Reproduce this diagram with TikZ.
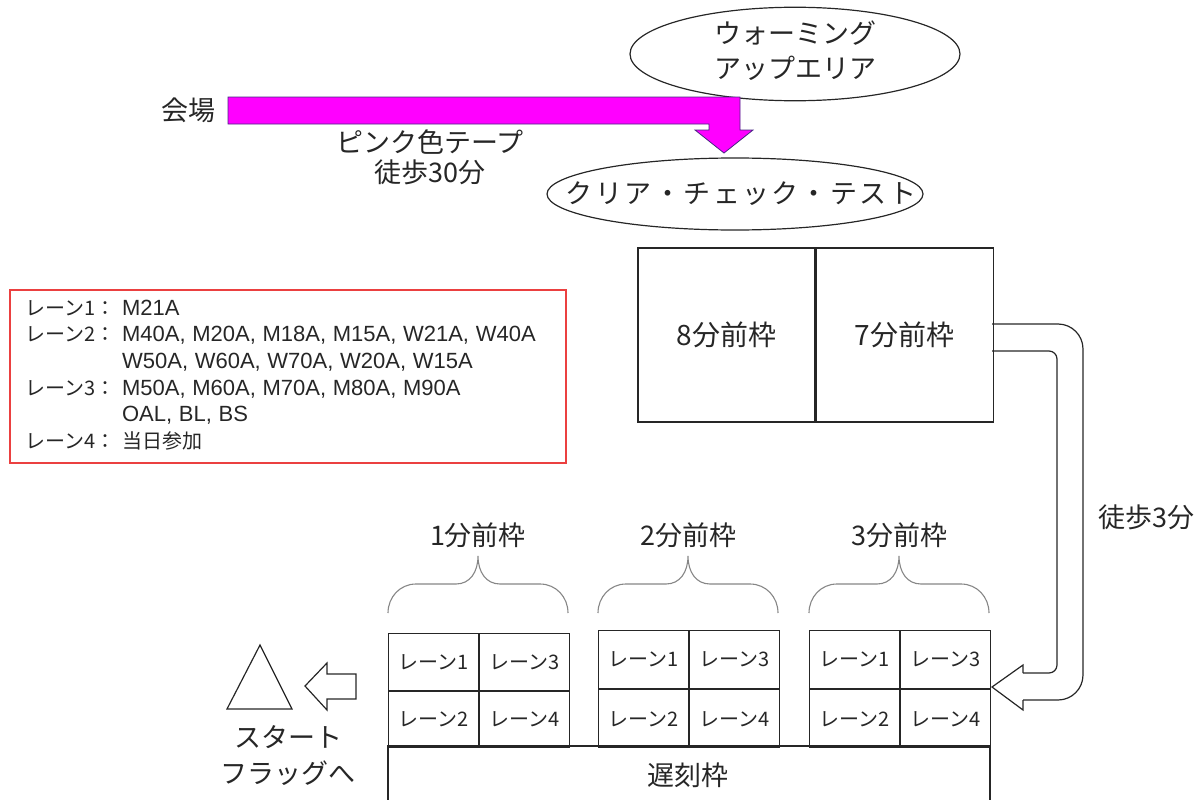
\documentclass[tikz,border=0pt]{standalone}
\usepackage{fontspec}
\setmainfont{Noto Sans CJK JP}
\newfontfamily\legendlatfam{Liberation Sans}
\newcommand\lat{\legendlatfam\fontsize{22}{26.7}\selectfont}
\usetikzlibrary{shapes.geometric,positioning}

\definecolor{legendred}{RGB}{235,64,64}
\definecolor{tapepink}{RGB}{255,0,255}
\definecolor{tapeline}{RGB}{70,40,130}

\tikzset{
  lbl/.style={font=\fontsize{27}{30}\selectfont, align=center, inner sep=0pt},
  oval/.style={lbl, draw, ellipse},
  frame/.style={lbl, font=\fontsize{28}{30}\selectfont, draw, minimum width=177pt, minimum height=174pt},
  lanebox/.style={draw, minimum width=90pt, inner sep=0pt, font=\fontsize{20}{24}\selectfont},
  bracket/.style={draw=gray!95, line width=1.1pt},
  hollow/.style={draw, line join=miter},
  pinktape/.style={fill=tapepink, draw=tapeline, line width=0.8pt},
  legend/.style={draw=legendred, line width=1.6pt, minimum width=556pt, minimum height=173pt,
    text width=526pt, inner xsep=15pt, align=left, font=\fontsize{20}{26.7}\selectfont}
}

\begin{document}
\begin{tikzpicture}[x=1pt, y=-1pt, line width=1.2pt, color=black!85]
  \useasboundingbox (0,0) rectangle (1199,800);

  % Ovals at the top
  \node[oval, minimum width=330pt, minimum height=88pt] (warmup) at (795,54)
    {\makebox[0pt]{\begin{tabular}{c}ウォーミング\\[3pt]アップエリア\end{tabular}}};
  \node[oval, minimum width=376pt, minimum height=72pt] (check) at (735,194)
    {\makebox[0pt]{\hspace{12pt}\addfontfeature{LetterSpace=9}クリア・チェック・テスト}};

  % Pink tape from the venue
  \node[lbl, anchor=east] (venue) at (216,110) {会場};
  \draw[pinktape] (228,97) -- (740,97) -- (740,130) -- (753,130) -- (724,153)
    -- (695,130) -- (709,130) -- (709,124) -- (228,124) -- cycle;
  \node[lbl] (tape) at (430,157) {ピンク色テープ\\徒歩30分};

  % Frames after the check
  \node[frame] (eight) at (726.5,335) {8分前枠};
  \node[frame, right=0pt of eight] (seven) {7分前枠};

  % Walk round to the start lanes
  \draw[rounded corners=25pt] (992,324) -- (1083,324) -- (1083,700) -- (1023,700);
  \draw[hollow] (1023,700) -- (1023,710) -- (992,687) -- (1023,665) -- (1023,673);
  \draw[rounded corners=8pt] (1023,673) -- (1057,673) -- (1057,351) -- (992,351);
  \node[lbl] (walk) at (1146,517) {徒歩3分};

  % Legend
  \node[legend] (lanes) at (288,376.5) {%
    \begin{tabular}{@{}l@{\hspace{7pt}}l@{}}
      レーン1： & \lat M21A\\
      レーン2： & \lat M40A, M20A, M18A, M15A, W21A, W40A\\
                & \lat W50A, W60A, W70A, W20A, W15A\\
      レーン3： & \lat M50A, M60A, M70A, M80A, M90A\\
                & \lat OAL, BL, BS\\
      レーン4： & 当日参加
    \end{tabular}};

  % Lane boxes, braces and labels
  \foreach \g/\x/\t in {1/388/633, 2/598/630, 3/809/630} {
    \pgfmathsetmacro\h{(746-\t)/2}
    \node[lanebox, minimum height=\h pt, anchor=north west] (g\g-1) at (\x,\t) {レーン1};
    \node[lanebox, minimum height=\h pt, right=0pt of g\g-1] (g\g-3) {レーン3};
    \node[lanebox, minimum height=\h pt, below=0pt of g\g-1] (g\g-2) {レーン2};
    \node[lanebox, minimum height=\h pt, below=0pt of g\g-3] (g\g-4) {レーン4};
    \draw[bracket] (\x,613) .. controls (\x,597) and (\x+12,584) .. (\x+28,584)
      -- (\x+68,584) .. controls (\x+82,584) and (\x+90,572) .. (\x+90,556)
      .. controls (\x+90,572) and (\x+98,584) .. (\x+112,584)
      -- (\x+152,584) .. controls (\x+168,584) and (\x+180,597) .. (\x+180,613);
    \node[lbl] (t\g) at (\x+90,535) {\g{}分前枠};
  }

  % Late frame underneath
  \draw (388,805) -- (388,746) -- (990,746) -- (990,805);
  \node[lbl] (late) at (688,775) {遅刻枠};

  % Start flag
  \draw (260,645) -- (292,709) -- (227,709) -- cycle;
  \draw[hollow] (356,674) -- (327,674) -- (327,663) -- (305,686) -- (327,710) -- (327,699) -- (356,699) -- cycle;
  \node[lbl] (start) at (288,756) {スタート\\[6pt]フラッグへ};
\end{tikzpicture}
\end{document}
